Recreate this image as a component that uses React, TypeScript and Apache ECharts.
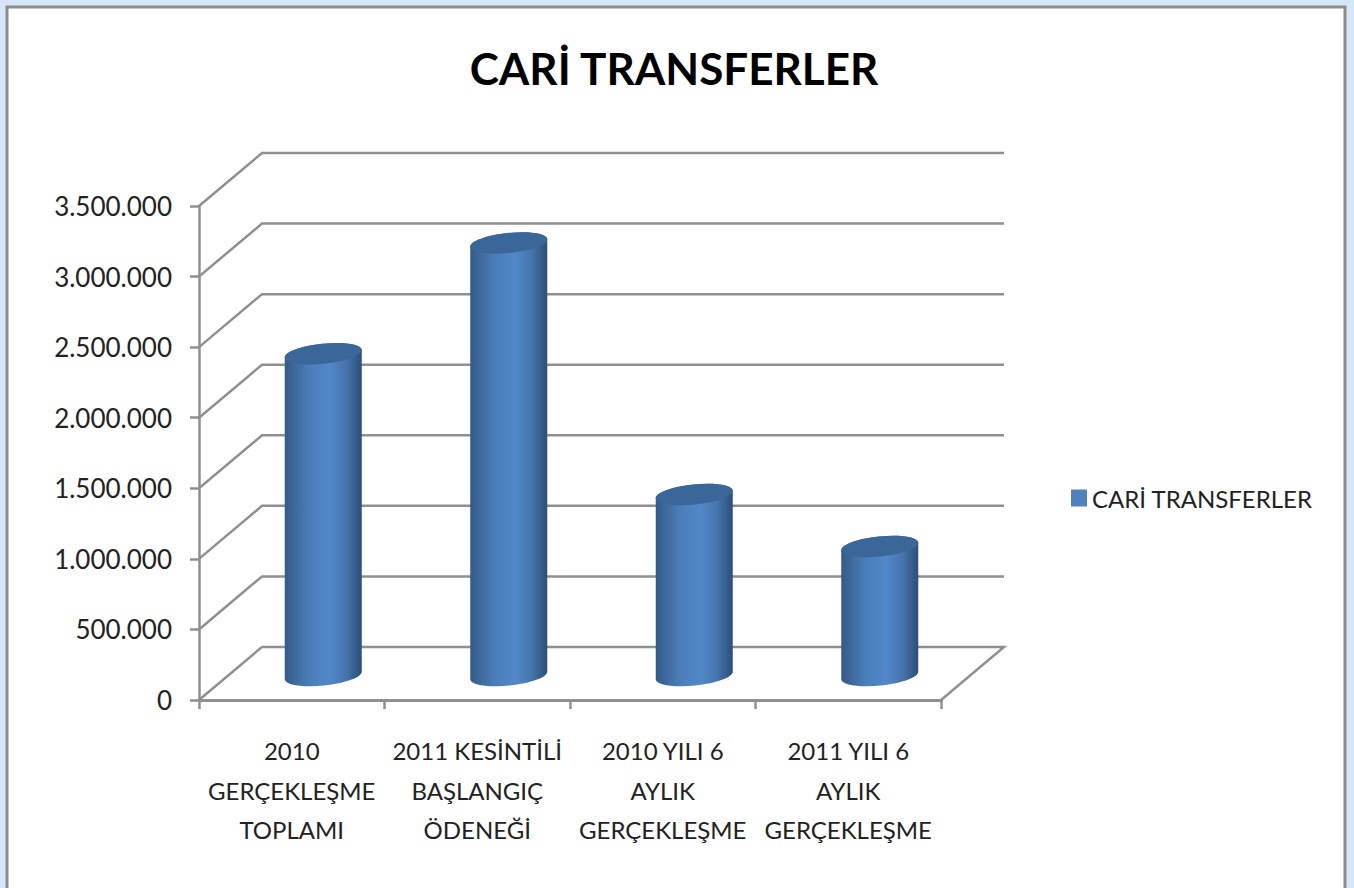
import React, { useEffect, useRef } from "react";
import * as echarts from "echarts";

const categories = [
  "2010\nGERÇEKLEŞME\nTOPLAMI",
  "2011 KESİNTİLİ\nBAŞLANGIÇ\nÖDENEĞİ",
  "2010 YILI 6\nAYLIK\nGERÇEKLEŞME",
  "2011 YILI 6\nAYLIK\nGERÇEKLEŞME",
];
const values = [2265000, 3050000, 1268000, 900000];
const wallTicks = [0, 500000, 1000000, 1500000, 2000000, 2500000, 3000000, 3500000];
const seriesName = "CARİ TRANSFERLER";

const FONT = "Lato";
const GRAY = "#8f8f8f";
const DEPTH_X = 63;
const DEPTH_Y = 53;
const RX = 38.5;
const RY = 10;
const TILT_DY = 4;
const K = 0.5523;

// Half-ellipse segments of a tilted ellipse, as cubic Bézier path commands.
function frontHalf(cx: number, cy: number) {
  const u = [RX, -TILT_DY];
  const v = [(RY * TILT_DY) / RX, RY];
  const p = (a: number, b: number) => `${cx + a * u[0] + b * v[0]} ${cy + a * u[1] + b * v[1]}`;
  return (
    `C ${p(-1, K)} ${p(-K, 1)} ${p(0, 1)} ` +
    `C ${p(K, 1)} ${p(1, K)} ${p(1, 0)} `
  );
}
function backHalf(cx: number, cy: number) {
  const u = [RX, -TILT_DY];
  const v = [(RY * TILT_DY) / RX, RY];
  const p = (a: number, b: number) => `${cx + a * u[0] + b * v[0]} ${cy + a * u[1] + b * v[1]}`;
  return (
    `C ${p(1, -K)} ${p(K, -1)} ${p(0, -1)} ` +
    `C ${p(-K, -1)} ${p(-1, -K)} ${p(-1, 0)} `
  );
}

export default function App() {
  const ref = useRef<HTMLDivElement>(null);
  useEffect(() => {
    const chart = echarts.init(ref.current!, null, { renderer: "svg" });
    chart.setOption({
      animation: false,
      backgroundColor: "#d6e6f6",
      title: {
        text: seriesName,
        left: 669,
        top: 41,
        textAlign: "center",
        textStyle: { fontFamily: FONT, fontSize: 44, fontWeight: "bold", color: "#000" },
      },
      legend: {
        data: [seriesName],
        left: 1066,
        top: 481,
        itemWidth: 16,
        itemHeight: 17,
        itemGap: 0,
        icon: "rect",
        textStyle: { fontFamily: FONT, fontSize: 24, color: "#222" },
      },
      graphic: [
        {
          type: "rect",
          z: -1,
          silent: true,
          shape: { x: 7, y: 7, width: 1338, height: 900 },
          style: { fill: "#ffffff", stroke: "#8c8c8c", lineWidth: 3 },
        },
      ],
      grid: { left: 199, top: 206, width: 742, height: 494 },
      xAxis: {
        type: "category",
        data: categories,
        axisLine: { lineStyle: { color: GRAY, width: 3 } },
        axisTick: { show: true, length: 9, lineStyle: { color: GRAY, width: 2.5 } },
        axisLabel: {
          interval: 0,
          margin: 31,
          lineHeight: 39.5,
          fontFamily: FONT,
          fontSize: 24,
          color: "#222",
        },
      },
      yAxis: {
        type: "value",
        min: 0,
        max: 3500000,
        interval: 500000,
        axisLine: { show: true, lineStyle: { color: GRAY, width: 2.5 } },
        axisTick: { show: true, length: 9, lineStyle: { color: GRAY, width: 2.5 } },
        splitLine: { show: false },
        axisLabel: {
          margin: 27,
          fontFamily: FONT,
          fontSize: 26,
          color: "#222",
          formatter: (v: number) => String(v).replace(/\B(?=(\d{3})+(?!\d))/g, "."),
        },
      },
      series: [
        {
          name: "walls",
          type: "custom",
          z: 1,
          silent: true,
          clip: false,
          data: wallTicks.map((v) => [0, v]),
          renderItem: (params: any, api: any) => {
            const cs = params.coordSys;
            const y = api.coord([0, api.value(1)])[1];
            const left = cs.x;
            const right = cs.x + cs.width;
            const points = [
              [left, y],
              [left + DEPTH_X, y - DEPTH_Y],
              [right + DEPTH_X, y - DEPTH_Y],
            ];
            if (api.value(1) === 0) points.push([right, y]);
            return {
              type: "polyline",
              shape: { points },
              style: { stroke: GRAY, lineWidth: 2.5, fill: "none" },
            };
          },
        },
        {
          name: seriesName,
          type: "custom",
          z: 3,
          silent: true,
          clip: false,
          itemStyle: { color: "#4f81bd" },
          data: values.map((v, i) => [i, v]),
          renderItem: (_params: any, api: any) => {
            const top = api.coord([api.value(0), api.value(1)]);
            const base = api.coord([api.value(0), 0]);
            const cx = top[0] + DEPTH_X / 2;
            const topY = top[1] - DEPTH_Y / 2;
            const baseY = base[1] - DEPTH_Y / 2 + 2;
            const body =
              `M ${cx - RX} ${topY + TILT_DY} ` +
              `L ${cx - RX} ${baseY + TILT_DY} ` +
              frontHalf(cx, baseY) +
              `L ${cx + RX} ${topY - TILT_DY} ` +
              backHalf(cx, topY) +
              "Z";
            const cap =
              `M ${cx - RX} ${topY + TILT_DY} ` +
              frontHalf(cx, topY) +
              backHalf(cx, topY) +
              "Z";
            return {
              type: "group",
              children: [
                {
                  type: "path",
                  shape: { pathData: body },
                  style: {
                    fill: new echarts.graphic.LinearGradient(0, 0, 1, 0, [
                      { offset: 0, color: "#345a88" },
                      { offset: 0.3, color: "#4a7cb6" },
                      { offset: 0.58, color: "#5288ca" },
                      { offset: 0.8, color: "#4674ab" },
                      { offset: 1, color: "#2c4e78" },
                    ]),
                  },
                },
                {
                  type: "path",
                  shape: { pathData: cap },
                  style: { fill: "#3b6699" },
                },
              ],
            };
          },
        },
      ],
    });
    return () => chart.dispose();
  }, []);
  return (
    <div
      ref={ref}
      style={{ position: "absolute", left: 0, top: 0, width: 1354, height: 888 }}
    />
  );
}
